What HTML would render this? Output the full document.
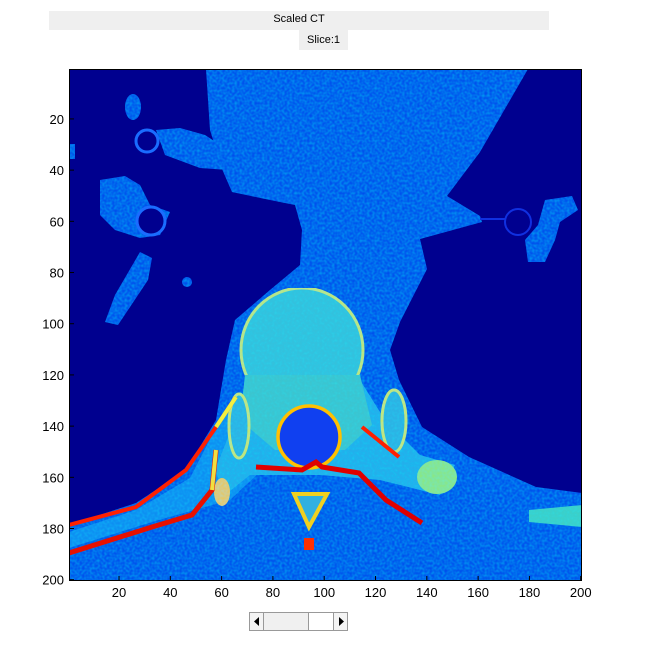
<!DOCTYPE html>
<html><head><meta charset="utf-8">
<style>
body{margin:0;background:#fff;width:651px;height:650px;position:relative;overflow:hidden;font-family:"Liberation Sans",sans-serif}
.t{position:absolute;background:#efefef;font-size:11px;text-align:center;color:#000}
.tick{font-size:13px;fill:#000;font-family:"Liberation Sans",sans-serif}
</style></head><body>
<div class="t" style="left:49px;top:11px;width:500px;height:19px;line-height:16px">Scaled CT</div>
<div class="t" style="left:299px;top:30px;width:49px;height:20px;line-height:20px">Slice:1</div>
<svg width="651" height="650" style="position:absolute;left:0;top:0">
<defs>
<filter id="nz" x="0" y="0" width="100%" height="100%">
<feTurbulence type="fractalNoise" baseFrequency="0.4" numOctaves="1" seed="3" result="n"/>
<feColorMatrix in="n" type="matrix" values="0 0 0 0 0  0 0 0 0.9 0  0 0 0 0 1  0 0 0 0.4 0" result="c"/>
<feComposite in="c" in2="SourceGraphic" operator="in" result="m"/>
<feMerge><feMergeNode in="SourceGraphic"/><feMergeNode in="m"/></feMerge>
</filter>
<clipPath id="cp"><rect x="69" y="69" width="513" height="512"/></clipPath>
</defs>
<g clip-path="url(#cp)">
<rect x="69" y="69" width="513" height="512" fill="#00008f"/>
<g filter="url(#nz)">
<polygon fill="#0a4cea" points="206,69 528,69 480,152 447,196 480,216 482,222 420,239 427,269 400,322 390,350 399,380 422,427 469,457 536,487 582,493 582,581 69,581 69,525 136,503 186,470 216,420 226,360 235,320 270,290 300,265 302,230 295,205 270,200 232,192 222,169 210,130"/>
<polygon points="156,130 180,128 205,135 228,150 228,170 200,168 165,155" fill="#0a4cea"/>
<ellipse cx="133" cy="107" rx="8" ry="13" fill="#0a4cea"/>
<polygon points="100,180 125,176 140,185 150,205 170,212 160,235 140,238 115,230 100,215" fill="#0a4cea"/>
<polygon points="140,252 152,258 148,280 118,325 105,322 115,295" fill="#0a4cea"/>
<circle cx="187" cy="282" r="5" fill="#0a4cea"/>
<rect x="69" y="144" width="6" height="15" fill="#0a4cea"/>
<polygon points="545,200 572,196 578,210 560,222 555,240 545,262 528,262 525,240 538,225" fill="#0a4cea"/>
<polygon points="69,532 136,510 190,478 225,410 250,400 262,470 230,500 152,522 69,548" fill="#1890f0"/>
<polygon points="529,510 582,505 582,527 529,522" fill="#40d8c0"/>
</g>
<circle cx="147" cy="141" r="11" fill="#00008f" stroke="#1a6cff" stroke-width="3"/>
<circle cx="151" cy="221" r="14" fill="#00008f" stroke="#1a6cff" stroke-width="3"/>
<circle cx="518" cy="222" r="13" fill="none" stroke="#1030e0" stroke-width="2"/>
<path d="M480,219 L506,219" stroke="#1030e0" stroke-width="2"/>
<g filter="url(#nz)">
<polygon points="250,380 360,380 385,420 420,455 455,465 440,495 380,480 320,475 250,475 225,495 215,470 235,420" fill="#28b4e8"/>
<ellipse cx="302" cy="350" rx="61" ry="62" fill="#38c8d8" stroke="#c8f050" stroke-width="3"/>
<path d="M245,375 L360,375 L372,425 L345,450 L275,450 L240,420 Z" fill="#40ccc8"/>
<ellipse cx="394" cy="421" rx="12" ry="31" fill="#30b8e0" stroke="#d0f040" stroke-width="3"/>
<ellipse cx="239" cy="426" rx="10" ry="32" fill="#30b8e0" stroke="#d0f040" stroke-width="3"/>
<ellipse cx="437" cy="477" rx="20" ry="17" fill="#90f070"/>
<ellipse cx="222" cy="492" rx="8" ry="14" fill="#f0d030"/>
</g>
<circle cx="309" cy="437" r="31" fill="#1040f0" stroke="#ffc000" stroke-width="3.5"/>
<path d="M69,525 L136,507 L186,470 L216,427 L236,397" stroke="#ff2000" stroke-width="4" fill="none"/>
<path d="M216,427 L236,397" stroke="#f0f040" stroke-width="4" fill="none"/>
<path d="M69,553 L152,527 L192,515 L212,490 L216,450" stroke="#e81000" stroke-width="5" fill="none"/>
<path d="M212,490 L216,450" stroke="#f0e040" stroke-width="4" fill="none"/>
<path d="M256,467 L302,470 L316,462 L322,467 L359,473 L386,500 L422,523" stroke="#e00000" stroke-width="5" fill="none"/>
<path d="M362,427 L399,457" stroke="#ff2000" stroke-width="4" fill="none"/>
<path d="M294,494 L327,494 L309,527 Z" fill="#30b0e0" stroke="#f0d020" stroke-width="4"/>
<rect x="304" y="538" width="10" height="12" fill="#ff3000"/>
</g>
<rect x="69.5" y="69.5" width="512" height="511" fill="none" stroke="#000" stroke-width="1"/>
<g id="ticks"></g>
<g>
<rect x="249.5" y="612.5" width="98" height="18" fill="#f0f0f0" stroke="#999"/>
<rect x="249.5" y="612.5" width="14" height="18" fill="#f4f4f4" stroke="#999"/>
<rect x="333.5" y="612.5" width="14" height="18" fill="#f4f4f4" stroke="#999"/>
<rect x="308.5" y="612.5" width="25" height="18" fill="#fff" stroke="#999"/>
<path d="M259,617 L254,621.5 L259,626 Z" fill="#000"/>
<path d="M339,617 L344,621.5 L339,626 Z" fill="#000"/>
</g>
</svg>
<script>
const xTicks=[20,40,60,80,100,120,140,160,180,200];
const yTicks=[20,40,60,80,100,120,140,160,180,200];
const ns="http://www.w3.org/2000/svg";
const g=document.getElementById('ticks');
function px(v){return 69+(v-0.5)*2.565;}
function py(v){return 69+(v-0.5)*2.56;}
xTicks.forEach(v=>{
 const l=document.createElementNS(ns,'line');
 l.setAttribute('x1',px(v));l.setAttribute('x2',px(v));l.setAttribute('y1',581);l.setAttribute('y2',576);l.setAttribute('stroke','#000');
 
 
 g.appendChild(l);
 const t=document.createElementNS(ns,'text');
 t.setAttribute('x',px(v));t.setAttribute('y',597);t.setAttribute('text-anchor','middle');t.setAttribute('class','tick');
 
 
 t.textContent=v;g.appendChild(t);
});
yTicks.forEach(v=>{
 const l=document.createElementNS(ns,'line');
 l.setAttribute('x1',69);l.setAttribute('x2',74);l.setAttribute('y1',py(v));l.setAttribute('y2',py(v));l.setAttribute('stroke','#000');
 
 
 g.appendChild(l);
 const t=document.createElementNS(ns,'text');
 t.setAttribute('x',64);t.setAttribute('y',py(v)+5);t.setAttribute('text-anchor','end');t.setAttribute('class','tick');
 
 
 t.textContent=v;g.appendChild(t);
});
</script>
</body></html>
